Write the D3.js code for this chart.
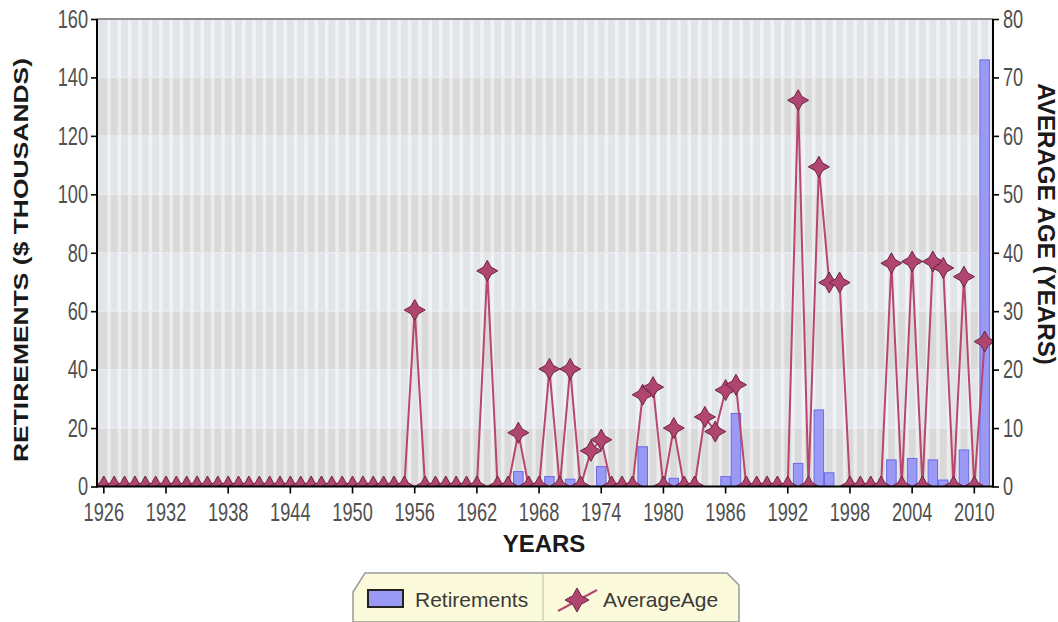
<!DOCTYPE html>
<html><head><meta charset="utf-8">
<script src="https://cdn.jsdelivr.net/npm/d3@7"></script>
<style>body{margin:0;background:#fff} svg{display:block}</style>
</head><body><svg id="c" width="1058" height="622"></svg>
<script>
// ---- data ----
const firstYear = 1926, lastYear = 2011;
const years = d3.range(firstYear, lastYear + 1);
// Retirements ($ thousands), one value per year 1926..2011
const retirements = [
  0,0,0,0,0,0,0,0,0,0,          // 1926-1935
  0,0,0,0,0,0,0,0,0,0,          // 1936-1945
  0,0,0,0,0,0,0,0,0,0,          // 1946-1955
  0,0,0,0,0,0,0,0,0,0,          // 1956-1965
  5.1,0,0,3.4,0,2.5,0,0,6.8,0,  // 1966-1975
  0,0,13.6,0,0,2.8,0,0,0,0,     // 1976-1985
  3.4,25.0,0,0,0,0,0,7.9,0,26.2,// 1986-1995
  4.7,0,0,0,0,0,9.1,0,9.6,0,    // 1996-2005
  9.1,2.2,0,12.5,0,146          // 2006-2011
];
// Average age (years), one value per year 1926..2011
const averageAge = [
  0,0,0,0,0,0,0,0,0,0,                 // 1926-1935
  0,0,0,0,0,0,0,0,0,0,                 // 1936-1945
  0,0,0,0,0,0,0,0,0,0,                 // 1946-1955
  30.2,0,0,0,0,0,0,36.9,0,0,           // 1956-1965
  9.2,0,0,20.1,0,20.1,0,6.1,8.0,0,     // 1966-1975
  0,0,15.7,17.0,0,10.0,0,0,11.9,9.4,   // 1976-1985
  16.5,17.4,0,0,0,0,0,66.1,0,54.7,     // 1986-1995
  34.9,34.9,0,0,0,0,38.2,0,38.5,0,     // 1996-2005
  38.5,37.4,0,35.9,0,24.8              // 2006-2011
];
const leftTicks = [0,20,40,60,80,100,120,140,160];
const rightTicks = [0,10,20,30,40,50,60,70,80];
const xTickYears = [1926,1932,1938,1944,1950,1956,1962,1968,1974,1980,1986,1992,1998,2004,2010];
const seriesNames = ["Retirements", "AverageAge"];
const axisTitles = {left: "RETIREMENTS ($ THOUSANDS)", right: "AVERAGE AGE (YEARS)", bottom: "YEARS"};

// ---- layout ----
const P = {l: 97, r: 993, t: 19, b: 486.5};
const svg = d3.select('#c');
svg.append('rect').attr('width',1058).attr('height',622).attr('fill','#fff');

const x = d3.scaleBand().domain(years).range([96, 992.5]).paddingInner(0.08).paddingOuter(0.295);
const yL = d3.scaleLinear().domain([0,160]).range([P.b, P.t]);
const yR = d3.scaleLinear().domain([0,80]).range([P.b, P.t]);
const cx = d => x(d) + x.bandwidth()/2;

const FONT = '"Liberation Sans", Arial, sans-serif';
const SX = 0.7; // horizontal squeeze of tick labels

// clip
svg.append('clipPath').attr('id','plotclip').append('rect')
  .attr('x',P.l).attr('y',P.t).attr('width',P.r-P.l).attr('height',P.b-P.t);

// background bands
const bandG = svg.append('g');
for (let i = 0; i < leftTicks.length-1; i++) {
  bandG.append('rect')
    .attr('x', P.l).attr('width', P.r-P.l)
    .attr('y', yL(leftTicks[i+1])).attr('height', yL(leftTicks[i]) - yL(leftTicks[i+1]))
    .attr('fill', i % 2 === 0 ? '#d9d9d9' : '#e1e5ea');
}
// vertical stripes per year
bandG.selectAll('line.vs').data(years).join('line')
  .attr('x1', d => cx(d) + x.step()/2).attr('x2', d => cx(d) + x.step()/2)
  .attr('y1', P.t).attr('y2', P.b)
  .attr('stroke', '#ffffff').attr('stroke-width', 3.5).attr('stroke-opacity', 0.5);
// horizontal grid lines
bandG.selectAll('line.hg').data(leftTicks).join('line')
  .attr('x1', P.l).attr('x2', P.r).attr('y1', d => yL(d)).attr('y2', d => yL(d))
  .attr('stroke', '#eeeeee').attr('stroke-width', 1);

// bars
const plot = svg.append('g').attr('clip-path','url(#plotclip)');
const barData = years.map((yr,i) => ({yr, v: retirements[i]})).filter(d => d.v > 0);
plot.selectAll('rect.bar').data(barData).join('rect')
  .attr('x', d => x(d.yr)).attr('width', x.bandwidth())
  .attr('y', d => yL(d.v)).attr('height', d => P.b - yL(d.v))
  .attr('fill', '#9a9af6').attr('stroke', '#6a6ae2').attr('stroke-width', 1);

// line
const ageData = years.map((yr,i) => ({yr, v: averageAge[i]}));
const line = d3.line().x(d => cx(d.yr)).y(d => yR(d.v));
plot.append('path').datum(ageData).attr('d', line)
  .attr('fill','none').attr('stroke','#b8466f').attr('stroke-width',2);

// star markers
function starPath(r) {
  const k = r*0.36;
  return `M0,${-r}L${k},${-k}L${r},0L${k},${k}L0,${r}L${-k},${k}L${-r},0L${-k},${-k}Z`;
}
plot.selectAll('path.mk').data(ageData).join('path')
  .attr('transform', d => `translate(${cx(d.yr)},${yR(d.v)})`)
  .attr('d', starPath(10.5))
  .attr('fill','#b0466f').attr('stroke','#6e2344').attr('stroke-width',1);

// top border
svg.append('line').attr('x1',P.l).attr('x2',P.r).attr('y1',P.t).attr('y2',P.t)
  .attr('stroke','#8e8e8e').attr('stroke-width',2);

function styleAxis(g) {
  g.select('.domain').remove();
  g.selectAll('.tick line').attr('stroke','#000').attr('stroke-width',1.6);
  g.selectAll('.tick text').attr('font-family',FONT).attr('font-size',26).attr('fill','#505050');
}
// left axis
const gL = svg.append('g').attr('transform',`translate(${P.l},0)`)
  .call(d3.axisLeft(yL).tickValues(leftTicks).tickSize(6).tickPadding(3).tickSizeOuter(0));
styleAxis(gL);
gL.selectAll('.tick text').attr('x', -9/SX).attr('transform',`scale(${SX},1)`);
// right axis
const gR = svg.append('g').attr('transform',`translate(${P.r},0)`)
  .call(d3.axisRight(yR).tickValues(rightTicks).tickSize(6).tickPadding(4).tickSizeOuter(0));
styleAxis(gR);
gR.selectAll('.tick text').attr('x', 10/SX).attr('transform',`scale(${SX},1)`);
// bottom axis
const gB = svg.append('g').attr('transform',`translate(0,${P.b})`)
  .call(d3.axisBottom(x).tickValues(xTickYears).tickSize(7).tickPadding(9).tickSizeOuter(0));
styleAxis(gB);
gB.selectAll('.tick text').attr('transform',`scale(${SX},1)`);

// axis lines
svg.append('line').attr('x1',P.l).attr('x2',P.l).attr('y1',P.t).attr('y2',P.b+1).attr('stroke','#000').attr('stroke-width',2);
svg.append('line').attr('x1',P.r).attr('x2',P.r).attr('y1',P.t).attr('y2',P.b+1).attr('stroke','#000').attr('stroke-width',2);
svg.append('line').attr('x1',P.l).attr('x2',P.r).attr('y1',P.b).attr('y2',P.b).attr('stroke','#000').attr('stroke-width',2);

// axis titles
svg.append('text').text(axisTitles.bottom)
  .attr('x', 544).attr('y', 552).attr('text-anchor','middle')
  .attr('font-family',FONT).attr('font-weight','bold').attr('font-size',24).attr('fill','#1a1a1a');
svg.append('text').text(axisTitles.left)
  .attr('transform','translate(28,260) rotate(-90) scale(1.26,1)')
  .attr('text-anchor','middle')
  .attr('font-family',FONT).attr('font-weight','bold').attr('font-size',21).attr('fill','#1a1a1a');
svg.append('text').text(axisTitles.right)
  .attr('transform','translate(1038,224) rotate(90) scale(1.05,1)')
  .attr('text-anchor','middle')
  .attr('font-family',FONT).attr('font-weight','bold').attr('font-size',23).attr('fill','#1a1a1a');

// legend
const lg = svg.append('g');
lg.append('path').attr('d','M365,573L727,573L739,585L739,622L353,622L353,592Z')
  .attr('fill','#fbfbdc').attr('stroke','#9a9a9a').attr('stroke-width',1.5);
lg.append('line').attr('x1',543).attr('x2',543).attr('y1',574).attr('y2',622).attr('stroke','#d0d0c0').attr('stroke-width',1.5);
lg.append('rect').attr('x',368).attr('y',590).attr('width',35).attr('height',17)
  .attr('fill','#9a9af6').attr('stroke','#222').attr('stroke-width',2);
lg.append('text').text(seriesNames[0]).attr('x',415).attr('y',607)
  .attr('font-family',FONT).attr('font-size',21).attr('fill','#3a3a3a');
lg.append('line').attr('x1',558).attr('y1',611).attr('x2',597).attr('y2',590).attr('stroke','#b8466f').attr('stroke-width',2);
lg.append('path').attr('transform','translate(577,600)').attr('d',starPath(12))
  .attr('fill','#b0466f').attr('stroke','#6e2344').attr('stroke-width',1);
lg.append('text').text(seriesNames[1]).attr('x',603).attr('y',607)
  .attr('font-family',FONT).attr('font-size',21).attr('fill','#3a3a3a');
</script></body></html>
